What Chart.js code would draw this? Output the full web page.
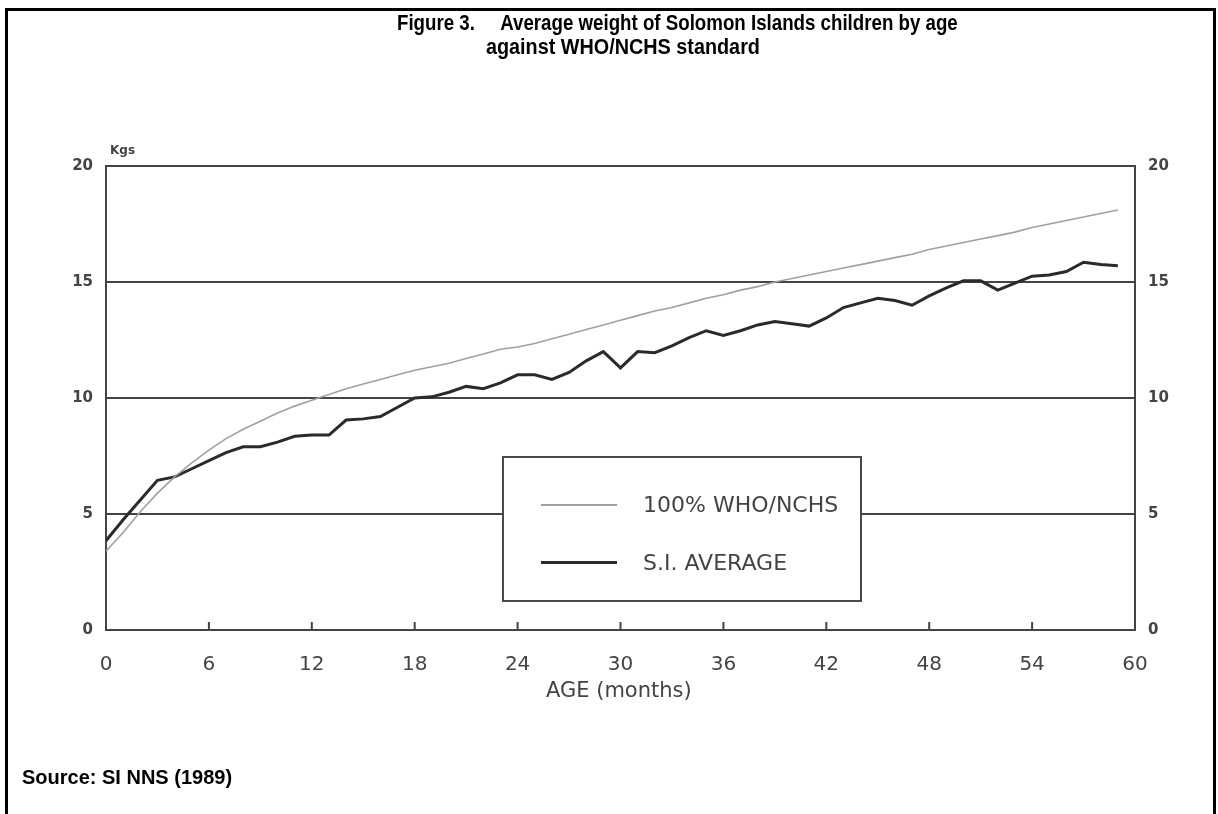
<!DOCTYPE html>
<html>
<head>
<meta charset="utf-8">
<script src="https://cdn.jsdelivr.net/npm/chart.js@4.4.0/dist/chart.umd.min.js"></script>
<style>
  html, body { margin: 0; padding: 0; background: #fff; width: 1218px; height: 814px; overflow: hidden; }
  #frame { position: absolute; left: 5px; top: 8px; width: 1205px; height: 830px; border: 3px solid #000; border-bottom: none; }
  #wrap { position: absolute; left: 0; top: 0; width: 1218px; height: 814px; }
  .title { position: absolute; white-space: nowrap; font-family: "Liberation Sans Narrow", "Arial Narrow", "Liberation Sans", sans-serif; font-weight: bold; font-size: 22px; color: #000; transform-origin: 0 0; }
  .source { position: absolute; left: 22px; top: 766px; white-space: nowrap; font-family: "Liberation Sans Narrow", "Arial Narrow", "Liberation Sans", sans-serif; font-weight: bold; font-size: 20px; color: #000; }
  .plotText { position: absolute; font-family: "DejaVu Sans", sans-serif; color: #444; }
  #legend { position: absolute; left: 502px; top: 456px; width: 356px; height: 142px; border: 2px solid #4a4a4a; background: #fff; }
  #legend .sample { position: absolute; left: 37px; width: 76px; }
  #legend .label { position: absolute; left: 139px; white-space: nowrap; font-family: "DejaVu Sans", sans-serif; font-size: 22px; color: #444; }
</style>
</head>
<body>
<div id="wrap"><canvas id="chart" width="1218" height="814"></canvas></div>
<div id="frame"></div>
<div class="title" style="left:397px; top:10px; transform:scaleX(0.85);">Figure 3.&nbsp;&nbsp;&nbsp;&nbsp; Average weight of Solomon Islands children by age</div>
<div class="title" style="left:486px; top:34px; transform:scaleX(0.9);">against WHO/NCHS standard</div>
<div class="plotText" style="left:110px; top:143px; font-size:12px; font-weight:bold;">Kgs</div>
<div class="plotText" style="left:546px; top:678px; font-size:21px;">AGE (months)</div>
<div id="legend">
  <div class="sample" style="top:46px; border-top:2px solid #a0a0a0;"></div>
  <div class="label" style="top:34px;">100% WHO/NCHS</div>
  <div class="sample" style="top:103px; border-top:3px solid #2a2a2a;"></div>
  <div class="label" style="top:92px;">S.I. AVERAGE</div>
</div>
<div class="source">Source: SI NNS (1989)</div>

<script>
const months = [];
for (let m = 0; m < 60; m++) months.push(m);

const whoNchs = [3.4, 4.2, 5.1, 5.9, 6.6, 7.2, 7.75, 8.25, 8.65, 9.0,
  9.35, 9.65, 9.9, 10.15, 10.4, 10.6, 10.8, 11.0, 11.2, 11.35,
  11.5, 11.7, 11.9, 12.1, 12.2, 12.35, 12.55, 12.75, 12.95, 13.15,
  13.35, 13.55, 13.75, 13.9, 14.1, 14.3, 14.45, 14.65, 14.8, 15.0,
  15.15, 15.3, 15.45, 15.6, 15.75, 15.9, 16.05, 16.2, 16.4, 16.55,
  16.7, 16.85, 17.0, 17.15, 17.35, 17.5, 17.65, 17.8, 17.95, 18.1];

const siAverage = [3.85, 4.75, 5.6, 6.45, 6.6, 6.95, 7.3, 7.65, 7.9, 7.9,
  8.1, 8.35, 8.4, 8.4, 9.05, 9.1, 9.2, 9.6, 10.0, 10.05,
  10.25, 10.5, 10.4, 10.65, 11.0, 11.0, 10.8, 11.1, 11.6, 12.0,
  11.3, 12.0, 11.95, 12.25, 12.6, 12.9, 12.7, 12.9, 13.15, 13.3,
  13.2, 13.1, 13.45, 13.9, 14.1, 14.3, 14.2, 14.0, 14.4, 14.75,
  15.05, 15.05, 14.65, 14.95, 15.25, 15.3, 15.45, 15.85, 15.75, 15.7];

const xTicks = [0, 6, 12, 18, 24, 30, 36, 42, 48, 54, 60];
const yTicks = [0, 5, 10, 15, 20];

const axisColor = '#444';
const labelColor = '#444';
const tickFont = { family: 'DejaVu Sans', size: 15, weight: 'bold' };

// small tick marks on the x axis pointing up into the plot
const innerTicks = {
  id: 'innerTicks',
  afterDatasetsDraw(chart) {
    const x = chart.scales.x;
    const ctx = chart.ctx;
    const bottom = chart.chartArea.bottom;
    ctx.save();
    ctx.strokeStyle = axisColor;
    ctx.lineWidth = 2;
    xTicks.slice(1, -1).forEach(v => {
      const px = x.getPixelForValue(v);
      ctx.beginPath();
      ctx.moveTo(px, bottom);
      ctx.lineTo(px, bottom - 8);
      ctx.stroke();
    });
    ctx.restore();
  }
};

new Chart(document.getElementById('chart'), {
  type: 'line',
  data: {
    datasets: [
      {
        label: '100% WHO/NCHS',
        data: months.map((m, i) => ({ x: m, y: whoNchs[i] })),
        borderColor: '#a0a0a0',
        borderWidth: 1.6,
        pointRadius: 0,
        tension: 0
      },
      {
        label: 'S.I. AVERAGE',
        data: months.map((m, i) => ({ x: m, y: siAverage[i] })),
        borderColor: '#2a2a2a',
        borderWidth: 3,
        pointRadius: 0,
        tension: 0
      }
    ]
  },
  options: {
    responsive: false,
    animation: false,
    layout: { padding: { top: 166, left: 0, right: 0, bottom: 0 } },
    plugins: { legend: { display: false }, tooltip: { enabled: false } },
    scales: {
      x: {
        type: 'linear',
        min: 0,
        max: 60,
        afterBuildTicks: s => { s.ticks = xTicks.map(v => ({ value: v })); },
        afterFit: s => { s.height = 184; },
        ticks: { font: { family: 'DejaVu Sans', size: 20 }, color: labelColor, padding: 23, maxRotation: 0 },
        grid: { display: false, drawTicks: false },
        border: { display: true, color: axisColor, width: 2 }
      },
      y: {
        position: 'left',
        min: 0,
        max: 20,
        afterBuildTicks: s => { s.ticks = yTicks.map(v => ({ value: v })); },
        afterFit: s => { s.width = 106; },
        ticks: { font: tickFont, color: labelColor, padding: 13 },
        grid: { color: axisColor, lineWidth: 2, drawTicks: false },
        border: { display: true, color: axisColor, width: 2 }
      },
      y2: {
        position: 'right',
        min: 0,
        max: 20,
        afterBuildTicks: s => { s.ticks = yTicks.map(v => ({ value: v })); },
        afterFit: s => { s.width = 83; },
        ticks: { font: tickFont, color: labelColor, padding: 13 },
        grid: { drawOnChartArea: false, drawTicks: false },
        border: { display: true, color: axisColor, width: 2 }
      }
    }
  },
  plugins: [innerTicks]
});
</script>
</body>
</html>
